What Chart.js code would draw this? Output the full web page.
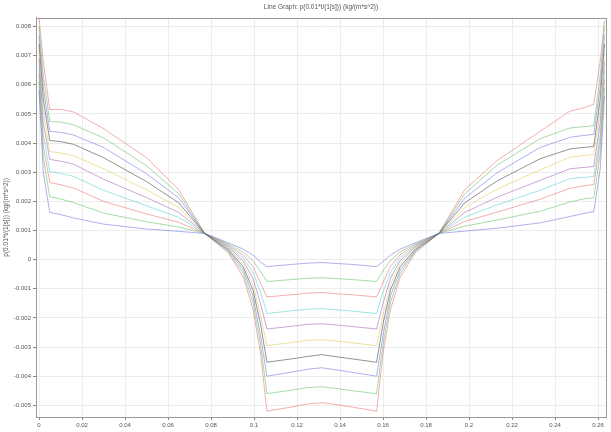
<!DOCTYPE html>
<html>
<head>
<meta charset="utf-8">
<script src="https://cdn.jsdelivr.net/npm/chart.js@4/dist/chart.umd.min.js"></script>
<style>
  html, body { margin: 0; padding: 0; background: #fff; }
  #wrap { width: 611px; height: 432px; }
</style>
</head>
<body>
<div id="wrap"><canvas id="chart"></canvas></div>
<script>
// x positions (m), shared by every curve
const xs = [0, 0.002, 0.005, 0.010, 0.016, 0.030, 0.050, 0.065, 0.077, 0.088, 0.095, 0.0995, 0.103, 0.106, 0.118, 0.125,
  0.1315,
  0.138, 0.145, 0.157, 0.160, 0.1635, 0.168, 0.175, 0.186, 0.198, 0.213, 0.233, 0.247, 0.253, 0.258, 0.261, 0.263];

const s0 = [0.0058, 0.0030, 0.00162, 0.00155, 0.00143, 0.00122, 0.00105, 0.00097, 0.0009, 0.00058, 0.00036, 0.00016, -0.00008, -0.00024, -0.00016, -0.00012,
  -0.0001,
  -0.00013, -0.00016, -0.00024, -0.00006, 0.00016, 0.00036, 0.00058, 0.0009, 0.00098, 0.00108, 0.00126, 0.00148, 0.00158, 0.00165, 0.0031, 0.0056];
const s1 = [0.0061, 0.0035, 0.00216, 0.00208, 0.00196, 0.00160, 0.00130, 0.00112, 0.0009, 0.00054, 0.00026, -0.00004, -0.0004, -0.00075, -0.00068, -0.00064,
  -0.00062,
  -0.00065, -0.00068, -0.00075, -0.00038, -0.00003, 0.00027, 0.00054, 0.0009, 0.00115, 0.00136, 0.00166, 0.00198, 0.00208, 0.00213, 0.0036, 0.0059];
const s2 = [0.0064, 0.0039, 0.00265, 0.00257, 0.00246, 0.00200, 0.00157, 0.00128, 0.0009, 0.0005, 0.00016, -0.00024, -0.0008, -0.00128, -0.0012, -0.00115,
  -0.00113,
  -0.00117, -0.0012, -0.00128, -0.00078, -0.00023, 0.00017, 0.0005, 0.0009, 0.00131, 0.00163, 0.00207, 0.00245, 0.00253, 0.00258, 0.0040, 0.0062];
const s3 = [0.0066, 0.0043, 0.00302, 0.00296, 0.00286, 0.00238, 0.00185, 0.00145, 0.0009, 0.00047, 0.00006, -0.00044, -0.0011, -0.00185, -0.00175, -0.0017,
  -0.00168,
  -0.00172, -0.00176, -0.00185, -0.0011, -0.00043, 0.00007, 0.00047, 0.0009, 0.00146, 0.00188, 0.00238, 0.00278, 0.00282, 0.00285, 0.0043, 0.0065];
const s4 = [0.0069, 0.0047, 0.00344, 0.00338, 0.00328, 0.00276, 0.00213, 0.00162, 0.0009, 0.00044, -0.00004, -0.00064, -0.0015, -0.00238, -0.00228, -0.00222,
  -0.0022,
  -0.00224, -0.00229, -0.00238, -0.0015, -0.00063, -0.00003, 0.00044, 0.0009, 0.00162, 0.00214, 0.00272, 0.00312, 0.00316, 0.0032, 0.0047, 0.0068];
const s5 = [0.0072, 0.0051, 0.00371, 0.00366, 0.00357, 0.00312, 0.00240, 0.00178, 0.0009, 0.0004, -0.00014, -0.00084, -0.0019, -0.00295, -0.00284, -0.00277,
  -0.00275,
  -0.00279, -0.00285, -0.00295, -0.0019, -0.00083, -0.00013, 0.0004, 0.0009, 0.00178, 0.00242, 0.00308, 0.00352, 0.00357, 0.00361, 0.0051, 0.0071];
const s6 = [0.0074, 0.0055, 0.00409, 0.00405, 0.00396, 0.00350, 0.00268, 0.00195, 0.0009, 0.00036, -0.00025, -0.00104, -0.0022, -0.00352, -0.0034, -0.00332,
  -0.00326,
  -0.00333, -0.0034, -0.00352, -0.0022, -0.00103, -0.00024, 0.00036, 0.0009, 0.00195, 0.0027, 0.00346, 0.0038, 0.00385, 0.00388, 0.0055, 0.0074];
const s7 = [0.0077, 0.0059, 0.0044, 0.00437, 0.00428, 0.00385, 0.00295, 0.00212, 0.0009, 0.00032, -0.00036, -0.00124, -0.0026, -0.004, -0.00385, -0.00376,
  -0.00371,
  -0.00378, -0.00386, -0.004, -0.0026, -0.00124, -0.00036, 0.00032, 0.0009, 0.00211, 0.00298, 0.00385, 0.0042, 0.00426, 0.0043, 0.0059, 0.0077];
const s8 = [0.0080, 0.0063, 0.00474, 0.00472, 0.00463, 0.00418, 0.00322, 0.00226, 0.0009, 0.00028, -0.00047, -0.00146, -0.0029, -0.0046, -0.00447, -0.00439,
  -0.00436,
  -0.00442, -0.00449, -0.0046, -0.0029, -0.00146, -0.00047, 0.00028, 0.0009, 0.00226, 0.00324, 0.00415, 0.00452, 0.00456, 0.0046, 0.0063, 0.0080];
const s9 = [0.0083, 0.0068, 0.00515, 0.00516, 0.00507, 0.0045, 0.0035, 0.0024, 0.0009, 0.00024, -0.0006, -0.0017, -0.0032, -0.0052, -0.00505, -0.00495,
  -0.00491,
  -0.00497, -0.00505, -0.0052, -0.0032, -0.0017, -0.0006, 0.00024, 0.0009, 0.0024, 0.0034, 0.0044, 0.0051, 0.0052, 0.00533, 0.0068, 0.0082];

const series = [s0, s1, s2, s3, s4, s5, s6, s7, s8, s9];
const lineColors = [
  "rgba(80,80,220,0.45)",  // blue
  "rgba(40,170,40,0.42)",  // green
  "rgba(230,60,60,0.42)",  // red
  "rgba(40,200,200,0.45)", // cyan
  "rgba(140,60,170,0.45)", // magenta
  "rgba(215,190,40,0.45)", // yellow
  "rgba(40,40,40,0.5)",    // black
  "rgba(80,80,220,0.45)",
  "rgba(40,170,40,0.42)",
  "rgba(230,60,60,0.42)",
];

const xTicks = [0, 0.02, 0.04, 0.06, 0.08, 0.1, 0.12, 0.14, 0.16, 0.18, 0.2, 0.22, 0.24, 0.26];
const yTicks = [-0.005, -0.004, -0.003, -0.002, -0.001, 0, 0.001, 0.002, 0.003, 0.004, 0.005, 0.006, 0.007, 0.008];

const titleText = "Line Graph: p(0.01*t/(1[s])) (kg/(m*s^2))";
const yTitleText = "p(0.01*t/(1[s])) (kg/(m*s^2))";

// frame round the plot area
const frame = {
  id: "frame",
  afterDraw(chart) {
    const a = chart.chartArea, c = chart.ctx;
    c.save();
    c.strokeStyle = "#9a9a9a";
    c.lineWidth = 1;
    c.strokeRect(Math.round(a.left) + 0.5, Math.round(a.top) + 0.5, Math.round(a.right - a.left), Math.round(a.bottom - a.top));
    c.restore();
  },
};

const font = { family: "Liberation Sans, Arial, sans-serif", size: 6 };

const ctx = document.getElementById("chart");
new Chart(ctx, {
  type: "line",
  data: {
    datasets: series.map((s, i) => ({
      label: "curve " + (i + 1),
      data: s.map((v, k) => ({ x: xs[k], y: v })),
      borderColor: lineColors[i],
      borderWidth: 1,
      pointRadius: 0,
      tension: 0,
      fill: false,
    })),
  },
  plugins: [frame],
  options: {
    responsive: true,
    maintainAspectRatio: false,
    animation: false,
    layout: { padding: { right: 5, left: 0, bottom: 0, top: 0 } },
    plugins: {
      legend: { display: false },
      tooltip: { enabled: false },
      title: {
        display: true,
        fullSize: false, // centre over the plot, not the page
        text: titleText,
        color: "#555",
        font: { family: font.family, size: 6.5, weight: "normal" },
        padding: { top: 3, bottom: 7 },
      },
    },
    scales: {
      x: {
        type: "linear",
        min: -0.0014,
        max: 0.2637,
        afterBuildTicks: (scale) => { scale.ticks = xTicks.map((v) => ({ value: v })); },
        afterFit: (scale) => { scale.height = 15; },
        ticks: {
          color: "#555",
          font: font,
          padding: 2,
          maxRotation: 0,
          callback: (v) => String(+v.toFixed(3)),
        },
        grid: { color: "#ececec", tickLength: 3, tickColor: "#888" },
        border: { color: "#9a9a9a" },
      },
      y: {
        type: "linear",
        min: -0.0054,
        max: 0.0083,
        afterBuildTicks: (scale) => { scale.ticks = yTicks.map((v) => ({ value: v })); },
        afterFit: (scale) => { scale.width = 36; },
        title: {
          display: true,
          text: yTitleText,
          color: "#555",
          font: { family: font.family, size: 6.5 },
          padding: { top: 2, bottom: 0 },
        },
        ticks: {
          color: "#555",
          font: font,
          padding: 2,
          callback: (v) => String(+v.toFixed(4)),
        },
        grid: { color: "#ececec", tickLength: 3, tickColor: "#888" },
        border: { color: "#9a9a9a" },
      },
    },
  },
});
</script>
</body>
</html>
